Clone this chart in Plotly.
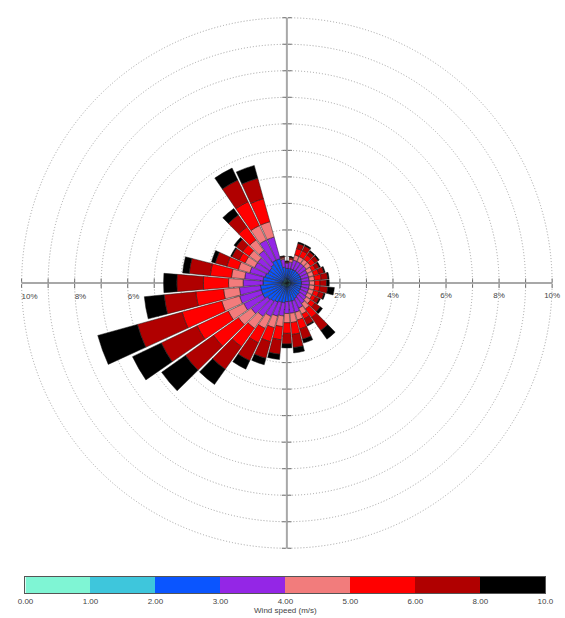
import plotly.graph_objects as go

# Directions (degrees, meteorological, clockwise from north)
directions = [10, 20, 30, 40, 50, 60, 70, 80, 90, 100, 110, 120, 130, 140, 150, 160, 170, 180,
              190, 200, 210, 220, 230, 240, 250, 260, 270, 280, 290, 300, 310, 320, 330, 340, 350, 360]

# Frequency (%) per speed bin for each direction
bin_0_1 = [0.05] * 36
bin_1_2 = [0.10, 0.10, 0.10, 0.10, 0.10, 0.10, 0.10, 0.10, 0.10, 0.10, 0.10, 0.10, 0.10, 0.10, 0.10, 0.10, 0.10, 0.10,
           0.10, 0.10, 0.10, 0.10, 0.10, 0.15, 0.15, 0.15, 0.10, 0.10, 0.10, 0.10, 0.10, 0.10, 0.15, 0.15, 0.10, 0.10]
bin_2_3 = [0.40, 0.40, 0.40, 0.40, 0.40, 0.40, 0.40, 0.40, 0.40, 0.40, 0.40, 0.40, 0.45, 0.45, 0.50, 0.55, 0.55, 0.55,
           0.60, 0.60, 0.65, 0.70, 0.75, 0.80, 0.80, 0.80, 0.75, 0.75, 0.70, 0.65, 0.65, 0.70, 0.75, 0.75, 0.45, 0.40]
bin_3_4 = [0.25, 0.35, 0.35, 0.35, 0.35, 0.30, 0.30, 0.30, 0.30, 0.30, 0.30, 0.30, 0.30, 0.35, 0.40, 0.45, 0.45, 0.45,
           0.50, 0.55, 0.60, 0.70, 0.75, 0.80, 0.85, 0.80, 0.75, 0.70, 0.60, 0.55, 0.55, 0.65, 0.85, 0.85, 0.30, 0.20]
bin_4_5 = [0.10, 0.20, 0.20, 0.20, 0.20, 0.20, 0.20, 0.20, 0.20, 0.20, 0.20, 0.20, 0.20, 0.25, 0.25, 0.30, 0.35, 0.35,
           0.40, 0.45, 0.50, 0.55, 0.60, 0.65, 0.70, 0.60, 0.55, 0.50, 0.45, 0.40, 0.40, 0.50, 0.60, 0.60, 0.05, 0.03]
bin_5_6 = [0.05, 0.25, 0.25, 0.20, 0.20, 0.15, 0.20, 0.25, 0.20, 0.20, 0.20, 0.15, 0.20, 0.40, 0.20, 0.35, 0.45, 0.40,
           0.50, 0.55, 0.60, 0.85, 1.15, 1.30, 1.55, 1.05, 0.95, 0.80, 0.45, 0.25, 0.30, 0.60, 1.00, 0.90, 0.03, 0.02]
bin_6_8 = [0.03, 0.20, 0.20, 0.15, 0.15, 0.15, 0.20, 0.25, 0.25, 0.30, 0.20, 0.15, 0.25, 0.60, 0.25, 0.40, 0.50, 0.40,
           0.55, 0.65, 0.75, 1.05, 1.30, 1.50, 1.75, 1.20, 1.00, 0.80, 0.45, 0.30, 0.30, 0.55, 0.90, 0.80, 0.03, 0.02]
bin_8_10 = [0.02, 0.05, 0.05, 0.05, 0.05, 0.05, 0.05, 0.05, 0.10, 0.25, 0.05, 0.05, 0.10, 0.40, 0.05, 0.15, 0.20, 0.15,
            0.20, 0.25, 0.35, 0.70, 1.10, 1.20, 1.55, 0.75, 0.50, 0.25, 0.15, 0.05, 0.10, 0.30, 0.50, 0.50, 0.02, 0.01]

bins = [bin_0_1, bin_1_2, bin_2_3, bin_3_4, bin_4_5, bin_5_6, bin_6_8, bin_8_10]
bin_names = ["0-1", "1-2", "2-3", "3-4", "4-5", "5-6", "6-8", "8-10"]
bin_colors = ["#7ff5d4", "#3ec6dc", "#0a55ff", "#9426e6", "#f27c7c", "#ff0000", "#b00000", "#000000"]

speed_labels = ["0.00", "1.00", "2.00", "3.00", "4.00", "5.00", "6.00", "8.00", "10.0"]
radial_ticks = [1, 2, 3, 4, 5, 6, 7, 8, 9, 10]
radial_text = ["", "2%", "", "4%", "", "6%", "", "8%", "", "10%"]

W, H = 565, 618
# axis polars: range 0-10
dom = dict(x=[14 / W, 560 / W], y=[1 - 556 / H, 1 - 10 / H])
# bar polar: slightly larger range so the 10 % gridline is drawn; domain enlarged to keep the same scale
R_MAX = 10.06
dom_bar = dict(x=[12.4 / W, 561.6 / W], y=[1 - 557.6 / H, 1 - 8.4 / H])

fig = go.Figure()
font_fam = "Liberation Sans, Arial, sans-serif"

# Axis overlay polars (drawn beneath the bars): (angle, side, labels, showline, tickangle)
axis_specs = [
    (0, "clockwise", True, True, 0), (0, "counterclockwise", False, False, 0),
    (180, "counterclockwise", True, True, 180), (180, "clockwise", False, False, 180),
    (90, "clockwise", False, True, 0), (90, "counterclockwise", False, False, 0),
    (270, "clockwise", False, True, 0), (270, "counterclockwise", False, False, 0),
]
layout_polars = {}
for i, (ang, side, labels, line_on, tang) in enumerate(axis_specs):
    name = "polar" if i == 0 else f"polar{i + 1}"
    fig.add_trace(go.Scatterpolar(r=[], theta=[], subplot=name, showlegend=False, hoverinfo="skip"))
    layout_polars[name] = dict(
        domain=dom,
        bgcolor="rgba(0,0,0,0)",
        angularaxis=dict(visible=False),
        radialaxis=dict(
            range=[0, 10], angle=ang, side=side, tickangle=tang,
            showgrid=False, showline=line_on, linecolor="#a8a8a8", linewidth=2,
            ticks="outside", ticklen=4, tickwidth=1, tickcolor="#666",
            tickvals=radial_ticks, ticktext=radial_text,
            showticklabels=labels, tickfont=dict(size=8, color="#444", family=font_fam),
        ),
    )

bar_polar = f"polar{len(axis_specs) + 1}"
for vals, nm, col in zip(bins, bin_names, bin_colors):
    fig.add_trace(go.Barpolar(
        r=vals, theta=directions, name=nm, subplot=bar_polar, showlegend=False,
        marker=dict(color=col, line=dict(color="#1a1a1a", width=0.5)),
    ))
layout_polars[bar_polar] = dict(
    domain=dom_bar,
    bgcolor="rgba(0,0,0,0)",
    barmode="stack",
    angularaxis=dict(direction="clockwise", rotation=90, showgrid=False, showline=False,
                     showticklabels=False, ticks=""),
    radialaxis=dict(range=[0, R_MAX], tickvals=radial_ticks, showgrid=True, griddash="1px,2px",
                    gridcolor="#a0a0a0", gridwidth=1, showline=False, showticklabels=False, ticks=""),
)

# Colour key as a heatmap strip
fig.add_trace(go.Heatmap(
    z=[list(range(len(bin_colors)))], x=[i + 0.5 for i in range(len(bin_colors))], y=[0],
    colorscale=[[k / (len(bin_colors) - 1), c] for k, c in enumerate(bin_colors)],
    zmin=0, zmax=len(bin_colors) - 1, showscale=False, hoverinfo="skip",
    xaxis="x", yaxis="y",
))

fig.update_layout(
    width=W, height=H, margin=dict(l=0, r=0, t=0, b=0),
    paper_bgcolor="white", plot_bgcolor="white",
    font=dict(family=font_fam),
    xaxis=dict(domain=[18 / W, 553 / W], range=[0, len(bin_colors)],
               tickvals=list(range(len(speed_labels))), ticktext=speed_labels,
               ticks="", showgrid=False, zeroline=False, showline=True, mirror=True,
               linecolor="#555", linewidth=1, tickfont=dict(size=8, color="#444"),
               title=dict(text="Wind speed (m/s)", font=dict(size=8, color="#444"), standoff=0),
               anchor="y"),
    yaxis=dict(domain=[1 - 593 / H, 1 - 577 / H], range=[-0.5, 0.5], showticklabels=False,
               ticks="", showgrid=False, zeroline=False, showline=True, mirror=True,
               linecolor="#555", linewidth=1, anchor="x"),
    **layout_polars,
)

fig.write_html("out.html", config={"displayModeBar": False},
               post_script="document.body.style.margin='0';document.body.style.overflow='hidden';")
